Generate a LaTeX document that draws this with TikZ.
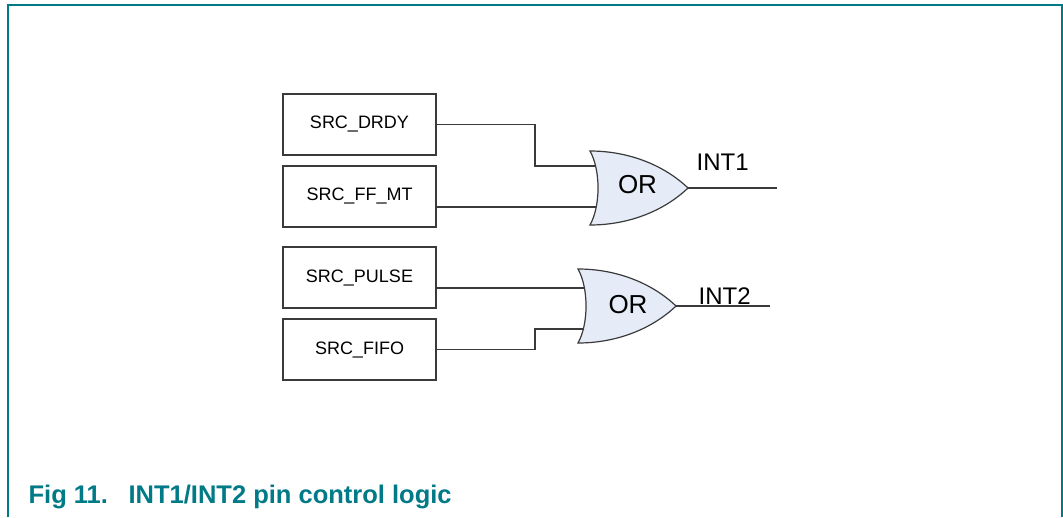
\documentclass[tikz,border=0pt]{standalone}
\usepackage{fontspec}
\setmainfont{Liberation Sans}
\usetikzlibrary{positioning, calc}

\definecolor{nxpteal}{HTML}{007A87}
\definecolor{gateblue}{HTML}{E6ECF7}
\definecolor{wiregray}{HTML}{3A3A3A}

\begin{document}
\begin{tikzpicture}[
    x=1pt, y=-1pt,
    line width=1.2pt,
    srcbox/.style={
        draw=wiregray,
        minimum width=153pt,
        minimum height=61pt,
        inner sep=0pt,
        font=\fontsize{18}{20}\selectfont
    },
    wire/.style={draw=wiregray, line width=1.2pt},
    gatefill/.style={draw=wiregray, fill=gateblue, line width=1.2pt},
    gatetext/.style={inner sep=0pt, font=\fontsize{26}{28}\selectfont},
    outtext/.style={inner sep=0pt, anchor=base west, font=\fontsize{24}{26}\selectfont},
    captext/.style={inner sep=0pt, anchor=base west, text=nxpteal,
        font=\bfseries\fontsize{25.5}{27}\selectfont},
    orgate/.pic={
        \draw[gatefill] (0,0) .. controls (40,0) and (75,15) .. (98,37)
            .. controls (75,59) and (40,74) .. (0,74)
            .. controls (10.7,55) and (10.7,19) .. (0,0) -- cycle;
        \coordinate (-out) at (98,37);
    }
]
    \useasboundingbox (0,0) rectangle (1063,517);

    % Frame
    \draw[nxpteal, line width=2pt] (8,517) -- (8,5) -- (1062,5) -- (1062,517);

    % Source blocks
    \node[srcbox] (drdy)  at (359.5,124.5) {SRC\_DRDY};
    \node[srcbox] (ffmt)  at (359.5,196.5) {SRC\_FF\_MT};
    \node[srcbox] (pulse) at (359.5,277.5) {SRC\_PULSE};
    \node[srcbox] (fifo)  at (359.5,349.5) {SRC\_FIFO};

    % Wire ends on the gates
    \coordinate (j1)  at (535,166);
    \coordinate (g1a) at (596,166);
    \coordinate (g1b) at (596,207);
    \coordinate (g2a) at (585,288);
    \coordinate (j2)  at (535,329);
    \coordinate (g2b) at (584,329);
    \coordinate (o1)  at (777,188);
    \coordinate (o2)  at (770,306);

    % Inputs
    \draw[wire] (drdy.east) -| (j1) -- (g1a);
    \draw[wire] (ffmt.east |- g1b) -- (g1b);
    \draw[wire] (pulse.east |- g2a) -- (g2a);
    \draw[wire] (fifo.east) -| (j2) -- (g2b);

    % Gates
    \pic (g1) at (590,151) {orgate};
    \pic (g2) at (578,269) {orgate};
    \node[gatetext] (or1) at (637.5,185) {OR};
    \node[gatetext] (or2) at (628,304.5) {OR};

    % Outputs
    \draw[wire] (g1-out) -- (o1);
    \draw[wire] (g2-out) -- (o2);
    \node[outtext] (int1) at (696,170) {INT1};
    \node[outtext] (int2) at (698,304) {INT2};

    % Caption
    \node[captext] (figno)    at (28,503)  {Fig 11.};
    \node[captext] (figtitle) at (128,503) {INT1/INT2 pin control logic};
\end{tikzpicture}
\end{document}
